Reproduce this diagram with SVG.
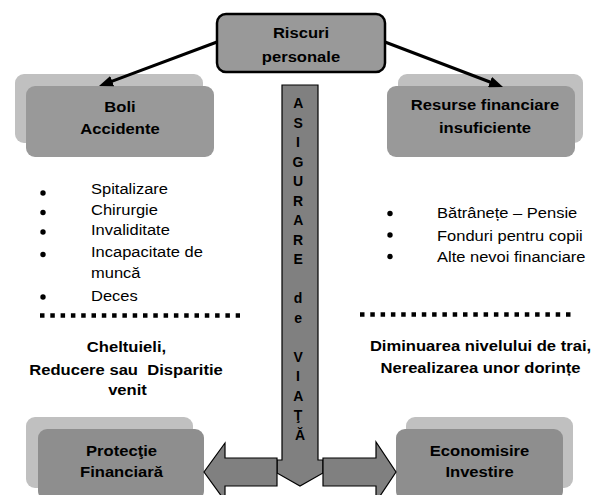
<svg xmlns="http://www.w3.org/2000/svg" width="594" height="495" viewBox="0 0 594 495">
  <style>
    .b { font-family: "Liberation Sans", Arial, sans-serif; font-weight: bold; font-size: 16.6px; fill: #000; text-anchor: middle; }
    .r { font-family: "Liberation Sans", Arial, sans-serif; font-size: 16.5px; fill: #000; }
    .v { font-family: "Liberation Sans", Arial, sans-serif; font-weight: bold; font-size: 14px; fill: #000; text-anchor: middle; }
    .back { fill: #c0c0c0; }
    .front { fill: #999999; }
    .frontLow { fill: #8e8e8e; }
    .blk { fill: #808080; stroke: #000; stroke-width: 1.2; stroke-linejoin: miter; }
    .dots { stroke: #000; stroke-width: 4.5; stroke-dasharray: 4.5 5.8; fill: none; }
    .link { stroke: #000; stroke-width: 3; fill: none; }
  </style>
  <defs>
    <marker id="head" viewBox="0 0 14 11" markerWidth="14" markerHeight="11" refX="7" refY="5.5" markerUnits="userSpaceOnUse" orient="auto">
      <path d="M0,0 L14,5.5 L0,11 z" fill="#000"/>
    </marker>
  </defs>

  <rect width="594" height="495" fill="#fff"/>

  <!-- top box -->
  <g id="riscuri">
    <rect x="217" y="14" width="168" height="58" rx="9" fill="#999" stroke="#000" stroke-width="2.5"/>
    <text class="b" transform="translate(301 38) scale(1 .9)">Riscuri</text>
    <text class="b" transform="translate(301 62) scale(1 .9)">personale</text>
  </g>

  <!-- upper left node -->
  <g id="boli">
    <rect class="back" x="15" y="74" width="188" height="69" rx="9"/>
    <rect class="front" x="26" y="86" width="188" height="71" rx="9"/>
    <text class="b" transform="translate(120 112) scale(1 .9)">Boli</text>
    <text class="b" transform="translate(120 134) scale(1 .9)">Accidente</text>
  </g>

  <!-- upper right node -->
  <g id="resurse">
    <rect class="back" x="398" y="74" width="185" height="69" rx="9"/>
    <rect class="front" x="387" y="86" width="188" height="71" rx="9"/>
    <text class="b" transform="translate(485 110) scale(1 .9)">Resurse financiare</text>
    <text class="b" transform="translate(485 133) scale(1 .9)">insuficiente</text>
  </g>

  <!-- connectors from the top box, drawn over the boxes they point at -->
  <g id="connectors">
    <path class="link" d="M217,42 L105.6,83.6" marker-end="url(#head)"/>
    <path class="link" d="M385,42 L496.5,84.5" marker-end="url(#head)"/>
  </g>

  <!-- left list -->
  <g id="lista-stanga">
    <circle cx="43" cy="193" r="2.7"/>
    <circle cx="43" cy="212.5" r="2.7"/>
    <circle cx="43" cy="232" r="2.7"/>
    <circle cx="43" cy="254.5" r="2.7"/>
    <circle cx="43" cy="297" r="2.7"/>
    <text class="r" transform="translate(91 194) scale(1 .9)">Spitalizare</text>
    <text class="r" transform="translate(91 215) scale(1 .9)">Chirurgie</text>
    <text class="r" transform="translate(91 235) scale(1 .9)">Invaliditate</text>
    <text class="r" transform="translate(91 257) scale(1 .9)">Incapacitate de</text>
    <text class="r" transform="translate(91 278) scale(1 .9)">muncă</text>
    <text class="r" transform="translate(91 301) scale(1 .9)">Deces</text>
  </g>

  <!-- right list -->
  <g id="lista-dreapta">
    <circle cx="390" cy="213.5" r="2.7"/>
    <circle cx="390" cy="235" r="2.7"/>
    <circle cx="390" cy="256.5" r="2.7"/>
    <text class="r" transform="translate(437 218) scale(1 .9)">Bătrânețe – Pensie</text>
    <text class="r" transform="translate(437 240.5) scale(1 .9)">Fonduri pentru copii</text>
    <text class="r" transform="translate(437 261.5) scale(1 .9)">Alte nevoi financiare</text>
  </g>

  <!-- separators -->
  <g id="separatoare">
    <line class="dots" x1="40" y1="315.5" x2="240" y2="315.5"/>
    <line class="dots" x1="360" y1="314.5" x2="572" y2="314.5"/>
  </g>

  <!-- consequences -->
  <g id="consecinte-stanga">
    <text class="b" transform="translate(126.5 352) scale(1 .9)">Cheltuieli,</text>
    <text class="b" transform="translate(126 375) scale(1 .9)" xml:space="preserve">Reducere sau  Disparitie</text>
    <text class="b" transform="translate(127.5 395) scale(1 .9)">venit</text>
  </g>
  <g id="consecinte-dreapta">
    <text class="b" transform="translate(480.5 351) scale(1 .9)">Diminuarea nivelului de trai,</text>
    <text class="b" transform="translate(480.5 373) scale(1 .9)">Nerealizarea unor dorințe</text>
  </g>

  <!-- lower left node -->
  <g id="protectie">
    <rect class="back" x="26" y="417" width="167" height="71" rx="9"/>
    <rect class="frontLow" x="38" y="429" width="166" height="71" rx="9"/>
    <text class="b" transform="translate(121.5 456) scale(1 .9)">Protecţie</text>
    <text class="b" transform="translate(121.5 477) scale(1 .9)">Financiară</text>
  </g>

  <!-- lower right node -->
  <g id="economisire">
    <rect class="back" x="406" y="417" width="167" height="71" rx="9"/>
    <rect class="frontLow" x="396" y="429" width="167" height="71" rx="9"/>
    <text class="b" transform="translate(479.5 456) scale(1 .9)">Economisire</text>
    <text class="b" transform="translate(479.5 477) scale(1 .9)">Investire</text>
  </g>

  <!-- central arrow with its two branches -->
  <g id="asigurare">
    <polygon class="blk" points="282,85 318,85 318,460 323,460 323,473 300,486 277,473 277,460 282,460"/>
    <polygon class="blk" points="277,458 225,458 225,443 204,472 225,501 225,486 277,486"/>
    <polygon class="blk" points="323,458 376,458 376,442 396,472 376,502 376,486 323,486"/>
    <text class="v">
      <tspan x="300" y="108">A</tspan>
      <tspan x="300" dy="19.5">S</tspan>
      <tspan x="300" dy="19.5">I</tspan>
      <tspan x="300" dy="19.5">G</tspan>
      <tspan x="300" dy="19.5">U</tspan>
      <tspan x="300" dy="19.5">R</tspan>
      <tspan x="300" dy="19.5">A</tspan>
      <tspan x="300" dy="19.5">R</tspan>
      <tspan x="300" dy="19.5">E</tspan>
      <tspan x="300" dy="39">d</tspan>
      <tspan x="300" dy="19.5">e</tspan>
      <tspan x="300" dy="39">V</tspan>
      <tspan x="300" dy="19.5">I</tspan>
      <tspan x="300" dy="19.5">A</tspan>
      <tspan x="300" dy="19.5">Ţ</tspan>
      <tspan x="300" dy="19.5">Ă</tspan>
    </text>
  </g>
</svg>
